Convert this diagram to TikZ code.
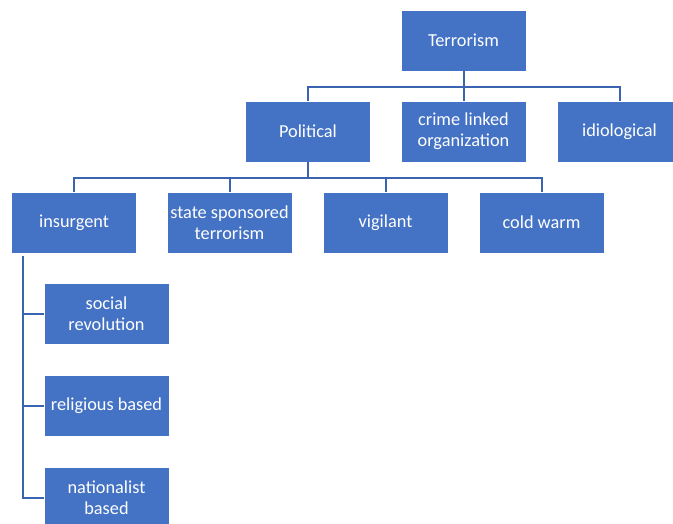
\documentclass[tikz,border=0pt]{standalone}
\usepackage{fontspec}
\setmainfont{Carlito}
\definecolor{boxblue}{HTML}{4472C4}
\definecolor{lineblue}{HTML}{3A64B0}
\begin{document}
\begin{tikzpicture}[x=1pt,y=-1pt,
  box/.style={rectangle, fill=boxblue, draw=white, line width=0.6pt, minimum width=125pt, minimum height=61pt, inner sep=0pt, align=center, text=white, font=\fontsize{18.3}{21}\selectfont},
  conn/.style={draw=lineblue, line width=2pt}]
\useasboundingbox (0,0) rectangle (673,523);
\clip (0,0) rectangle (673,523);
\node[box] (T) at (463.5,40.5) {Terrorism};
\node[box] (P) at (308,131.5) {Political};
\node[box] (C) at (463.5,131.5) {crime linked\\organization};
\node[box] (D) at (619.5,131.5) {idiological};
\node[box] (I) at (74,222.5) {insurgent};
\node[box] (S) at (229.5,222.5) {state sponsored\\terrorism};
\node[box] (V) at (385.5,222.5) {vigilant};
\node[box] (W) at (541.5,222.5) {cold warm};
\node[box] (R1) at (106.5,314) {social\\revolution};
\node[box] (R2) at (106.5,405.5) {religious based};
\node[box] (R3) at (106.5,497.5) {nationalist\\based};
\foreach \c in {P,C,D}
  \draw[conn] (T.south) -- ++(0pt,-15.5pt) -| (\c.north);
\foreach \c in {I,S,V,W}
  \draw[conn] (P.south) -- ++(0pt,-15.5pt) -| (\c.north);
\foreach \c in {R1,R2,R3}
  \draw[conn] ([xshift=11.5pt,yshift=-3pt]I.south west) |- (\c.west);
\end{tikzpicture}
\end{document}
